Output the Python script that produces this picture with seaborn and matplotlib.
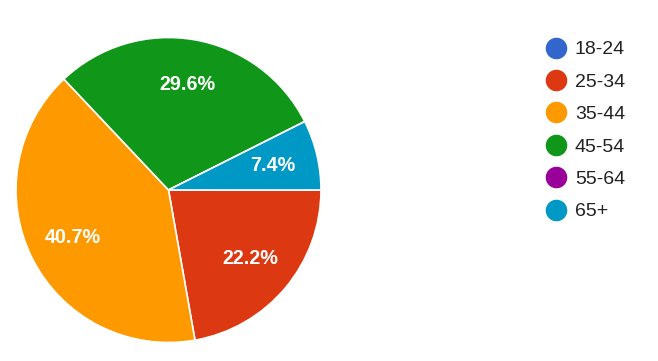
import matplotlib
matplotlib.use("Agg")
import matplotlib.pyplot as plt
from matplotlib.lines import Line2D
import seaborn as sns

categories = ["18-24", "25-34", "35-44", "45-54", "55-64", "65+"]
values = [0.0, 22.2, 40.7, 29.6, 0.0, 7.4]
colors = ["#3366CC", "#DC3912", "#FF9900", "#109618", "#990099", "#0099C6"]

sns.set_theme(style="white")
plt.rcParams["font.family"] = ["Liberation Sans", "DejaVu Sans"]

W, H = 658, 361
fig = plt.figure(figsize=(W / 100, H / 100), dpi=100)
fig.patch.set_facecolor("white")

cx, cy, r = 168.5, 190, 152.5
ax = fig.add_axes([(cx - r) / W, (H - cy - r) / H, 2 * r / W, 2 * r / H])
ax.axis("off")

def fmt(p):
    return f"{p:.1f}%" if p > 0.5 else ""

wedges, texts, autotexts = ax.pie(
    values, colors=colors, startangle=0, counterclock=False,
    autopct=fmt, pctdistance=0.70, radius=1,
    wedgeprops=dict(edgecolor="white", linewidth=1.2),
    textprops=dict(color="white", fontsize=14.2, fontweight="bold"),
)
ax.set_xlim(-1, 1)
ax.set_ylim(-1, 1)
ax.set_aspect("equal")

handles = [Line2D([0], [0], marker="o", linestyle="none", markersize=14.5,
                  markerfacecolor=c, markeredgecolor=c) for c in colors]
leg = fig.legend(handles, categories, loc="upper left",
                 bbox_to_anchor=(538 / W, 1 - 33 / H), frameon=False,
                 fontsize=14, labelspacing=0.76, handlelength=1.0,
                 handletextpad=0.5, borderaxespad=0)
for t in leg.get_texts():
    t.set_color("#222222")

fig.savefig("out.png", dpi=100, facecolor="white")
